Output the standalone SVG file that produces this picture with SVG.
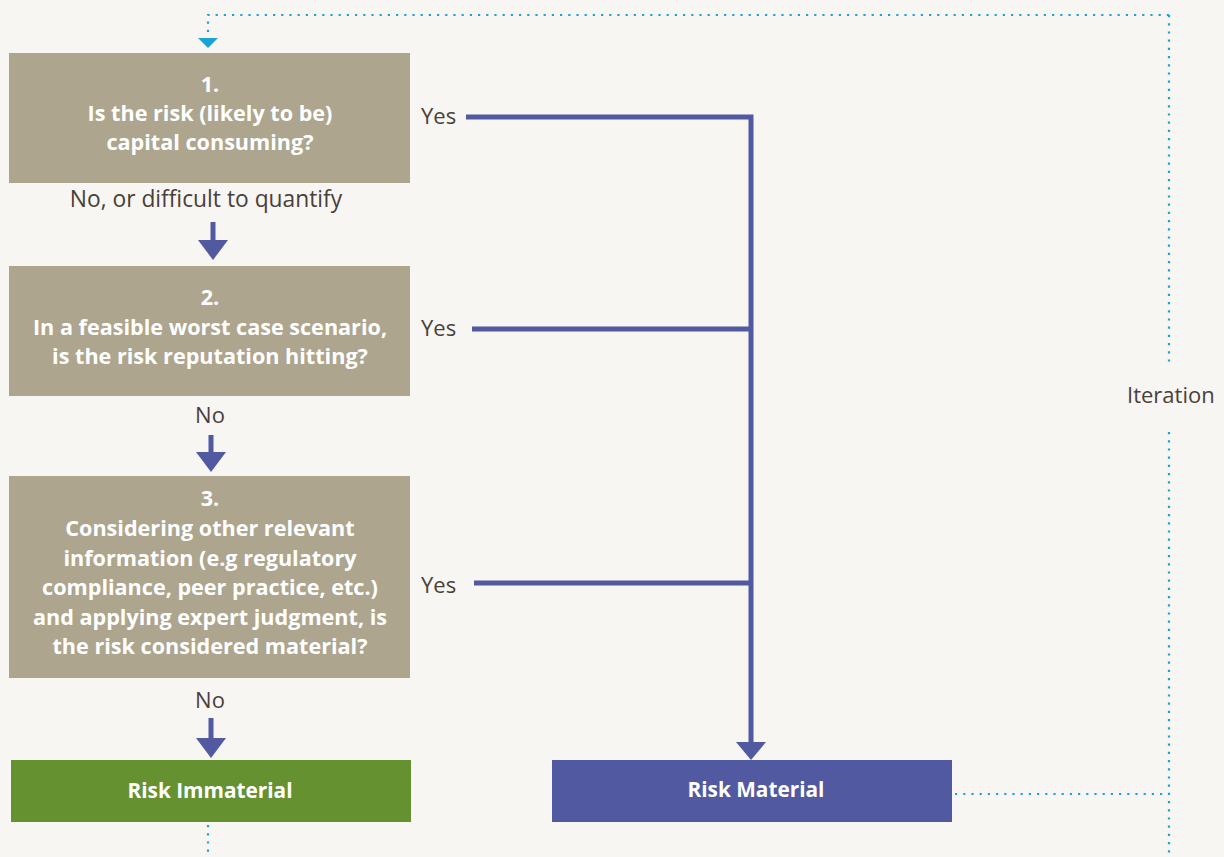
<svg xmlns="http://www.w3.org/2000/svg" width="1224" height="857" viewBox="0 0 1224 857">
<style>
.q{fill:#ada58e}
.bt{font-family:"Open Sans",Lato,sans-serif;font-weight:bold;font-size:21.6px;fill:#ffffff;text-anchor:middle}
.bb{font-size:20.8px}
.lb{font-family:"Open Sans",Lato,sans-serif;font-size:22px;fill:#4a3f39}
.c{text-anchor:middle}
.dot{fill:none;stroke:#1aa3d6;stroke-width:2.2;stroke-dasharray:2.2 6}
.ln{fill:none;stroke:#5159a1;stroke-width:5}
</style>
<rect width="1224" height="857" fill="#f8f6f2"/>
<g id="connectors">
<path class="dot" d="M1169,15 H208 V32"/>
<path d="M198,38 H218 L208,48 Z" fill="#1aa3d6"/>
<path class="dot" d="M1169,15 V366"/>
<path class="dot" d="M1169,432 V857"/>
<path class="dot" d="M955,794 H1169"/>
<path class="dot" d="M208,825 V857"/>
<path class="ln" d="M213,222 V242"/>
<path d="M198,240 H228 L213,260 Z" fill="#5159a1"/>
<path class="ln" d="M211,435 V454"/>
<path d="M196,452 H226 L211,472 Z" fill="#5159a1"/>
<path class="ln" d="M211,718 V740"/>
<path d="M196,738 H226 L211,758 Z" fill="#5159a1"/>
<path class="ln" d="M466,117 H751 V744"/>
<path class="ln" d="M472,329 H751"/>
<path class="ln" d="M474,583 H751"/>
<path d="M736,742 H766 L751,760 Z" fill="#5159a1"/>
</g>
<g id="q1">
<rect class="q" x="9" y="53" width="401" height="130"/>
<text class="bt" x="210" y="92">1.</text>
<text class="bt" x="210" y="121">Is the risk (likely to be)</text>
<text class="bt" x="210" y="150">capital consuming?</text>
</g>
<g id="q2">
<rect class="q" x="9" y="266" width="401" height="130"/>
<text class="bt" x="210" y="305">2.</text>
<text class="bt" x="210" y="335">In a feasible worst case scenario,</text>
<text class="bt" x="210" y="364">is the risk reputation hitting?</text>
</g>
<g id="q3">
<rect class="q" x="9" y="476" width="401" height="202"/>
<text class="bt" x="210" y="506">3.</text>
<text class="bt" x="210" y="536">Considering other relevant</text>
<text class="bt" x="210" y="566">information (e.g regulatory</text>
<text class="bt" x="210" y="595">compliance, peer practice, etc.)</text>
<text class="bt" x="210" y="625">and applying expert judgment, is</text>
<text class="bt" x="210" y="654">the risk considered material?</text>
</g>
<g id="immaterial">
<rect x="11" y="760" width="400" height="62" fill="#669131"/>
<text class="bt bb" x="210" y="798">Risk Immaterial</text>
</g>
<g id="material">
<rect x="552" y="760" width="400" height="62" fill="#5159a1"/>
<text class="bt bb" x="756" y="797">Risk Material</text>
</g>
<g id="labels">
<text class="lb c" x="206" y="207" style="font-size:22.8px">No, or difficult to quantify</text>
<text class="lb c" x="210" y="423">No</text>
<text class="lb c" x="210" y="708">No</text>
<text class="lb" x="421" y="124">Yes</text>
<text class="lb" x="421" y="336">Yes</text>
<text class="lb" x="421" y="593">Yes</text>
<text class="lb" x="1127" y="403">Iteration</text>
</g>
</svg>
